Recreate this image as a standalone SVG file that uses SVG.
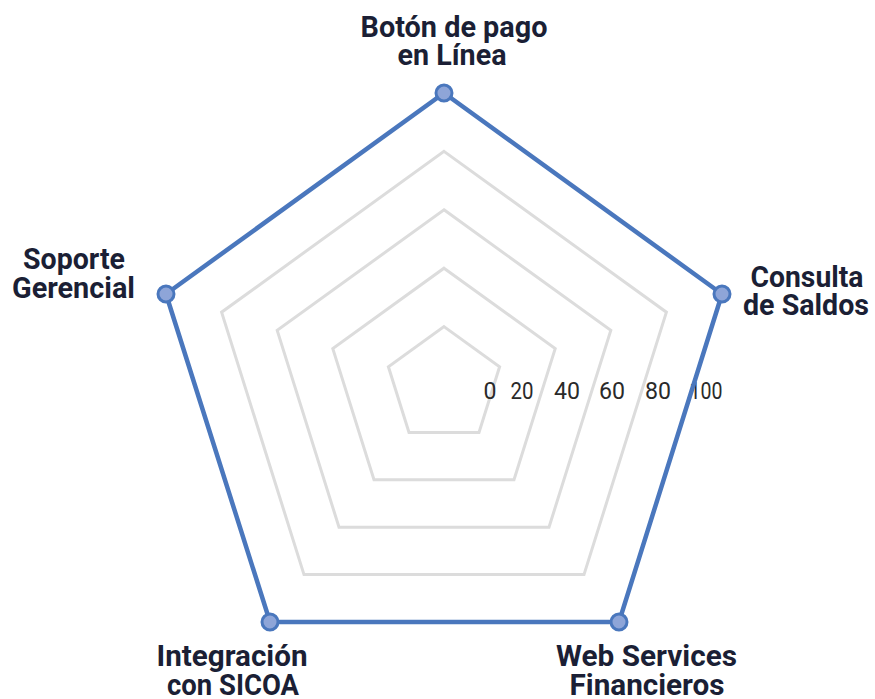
<svg xmlns="http://www.w3.org/2000/svg" width="875" height="699" viewBox="0 0 875 699">
<style>
.grid{fill:none;stroke:#dcdcdc;stroke-width:3}
.data{fill:none;stroke:#4a77bd;stroke-width:4.5;stroke-linejoin:miter}
.pt{fill:#8ea5d8;stroke:#4a77bd;stroke-width:3}
.lbl{font-family:Roboto,"Liberation Sans",sans-serif;font-weight:700;font-size:30px;fill:#1b1f35;text-anchor:middle}
.tick{font-family:Roboto,"Liberation Sans",sans-serif;font-size:24px;fill:#2a2a2a;text-anchor:middle}
</style>
<rect width="875" height="699" fill="#ffffff"/>
<g id="grid">
<polygon class="grid" points="444,326.6 499.6,366.8 479,432.4 409,432.4 388.4,366.8"/>
<polygon class="grid" points="444,268.2 555.2,348.6 514,479.8 374,479.8 332.8,348.6"/>
<polygon class="grid" points="444,209.8 610.8,330.4 549,527.2 339,527.2 277.2,330.4"/>
<polygon class="grid" points="444,151.4 666.4,312.2 584,574.6 304,574.6 221.6,312.2"/>
</g>
<g id="ticks">
<text class="tick" x="490" y="399" textLength="13" lengthAdjust="spacingAndGlyphs">0</text>
<text class="tick" x="522" y="399" textLength="23" lengthAdjust="spacingAndGlyphs">20</text>
<text class="tick" x="567" y="399" textLength="26" lengthAdjust="spacingAndGlyphs">40</text>
<text class="tick" x="612" y="399" textLength="26" lengthAdjust="spacingAndGlyphs">60</text>
<text class="tick" x="658" y="399" textLength="26" lengthAdjust="spacingAndGlyphs">80</text>
<text class="tick" x="706" y="399" textLength="33" lengthAdjust="spacingAndGlyphs">100</text>
</g>
<g id="connectors">
<polygon class="data" points="444,93 722,294 619,622 270,622 166,294"/>
</g>
<g id="node-boton">
<circle class="pt" cx="444" cy="93" r="8"/>
<text class="lbl" x="454" y="37" textLength="187" lengthAdjust="spacingAndGlyphs">Botón de pago</text>
<text class="lbl" x="452" y="65" textLength="109" lengthAdjust="spacingAndGlyphs">en Línea</text>
</g>
<g id="node-consulta">
<circle class="pt" cx="722" cy="294" r="8"/>
<text class="lbl" x="807" y="287" textLength="113" lengthAdjust="spacingAndGlyphs">Consulta</text>
<text class="lbl" x="806" y="315" textLength="126" lengthAdjust="spacingAndGlyphs">de Saldos</text>
</g>
<g id="node-web">
<circle class="pt" cx="619" cy="622" r="8"/>
<text class="lbl" x="646.5" y="666" textLength="181" lengthAdjust="spacingAndGlyphs">Web Services</text>
<text class="lbl" x="647" y="695" textLength="155" lengthAdjust="spacingAndGlyphs">Financieros</text>
</g>
<g id="node-integracion">
<circle class="pt" cx="270" cy="622" r="8"/>
<text class="lbl" x="232" y="666" textLength="151" lengthAdjust="spacingAndGlyphs">Integración</text>
<text class="lbl" x="233" y="695" textLength="132" lengthAdjust="spacingAndGlyphs">con SICOA</text>
</g>
<g id="node-soporte">
<circle class="pt" cx="166" cy="294" r="8"/>
<text class="lbl" x="74" y="269" textLength="102" lengthAdjust="spacingAndGlyphs">Soporte</text>
<text class="lbl" x="73.5" y="298" textLength="123" lengthAdjust="spacingAndGlyphs">Gerencial</text>
</g>
</svg>
